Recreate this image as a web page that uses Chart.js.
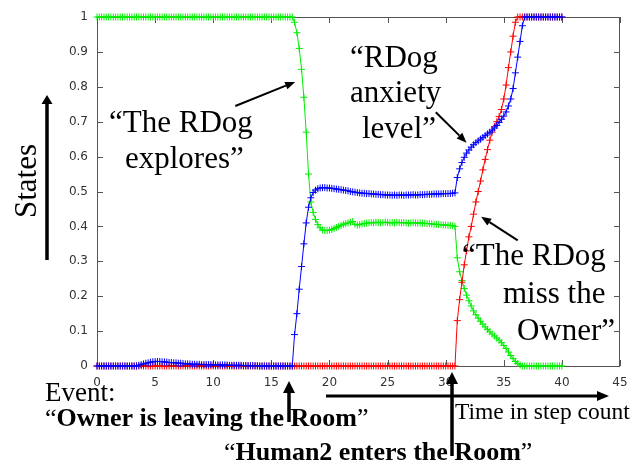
<!DOCTYPE html>
<html>
<head>
<meta charset="utf-8">
<script src="https://cdn.jsdelivr.net/npm/chart.js@4.4.0/dist/chart.umd.min.js"></script>
<style>
  html, body { margin: 0; padding: 0; background: #fff; }
  #wrap { width: 641px; height: 465px; }
</style>
</head>
<body>
<div id="wrap"><canvas id="states" width="641" height="465"></canvas></div>
<script>
// --- DATA (time in step count, one sample every 0.2 step) ---
const steps = [
  0,0.2,0.4,0.6,0.8,1,1.2,1.4,1.6,1.8,
  2,2.2,2.4,2.6,2.8,3,3.2,3.4,3.6,3.8,
  4,4.2,4.4,4.6,4.8,5,5.2,5.4,5.6,5.8,
  6,6.2,6.4,6.6,6.8,7,7.2,7.4,7.6,7.8,
  8,8.2,8.4,8.6,8.8,9,9.2,9.4,9.6,9.8,
  10,10.2,10.4,10.6,10.8,11,11.2,11.4,11.6,11.8,
  12,12.2,12.4,12.6,12.8,13,13.2,13.4,13.6,13.8,
  14,14.2,14.4,14.6,14.8,15,15.2,15.4,15.6,15.8,
  16,16.2,16.4,16.6,16.8,17,17.2,17.4,17.6,17.8,
  18,18.2,18.4,18.6,18.8,19,19.2,19.4,19.6,19.8,
  20,20.2,20.4,20.6,20.8,21,21.2,21.4,21.6,21.8,
  22,22.2,22.4,22.6,22.8,23,23.2,23.4,23.6,23.8,
  24,24.2,24.4,24.6,24.8,25,25.2,25.4,25.6,25.8,
  26,26.2,26.4,26.6,26.8,27,27.2,27.4,27.6,27.8,
  28,28.2,28.4,28.6,28.8,29,29.2,29.4,29.6,29.8,
  30,30.2,30.4,30.6,30.8,31,31.2,31.4,31.6,31.8,
  32,32.2,32.4,32.6,32.8,33,33.2,33.4,33.6,33.8,
  34,34.2,34.4,34.6,34.8,35,35.2,35.4,35.6,35.8,
  36,36.2,36.4,36.6,36.8,37,37.2,37.4,37.6,37.8,
  38,38.2,38.4,38.6,38.8,39,39.2,39.4,39.6,39.8,
  40
];

// blue: "RDog anxiety level"
const anxiety = [
  0,0,0,0,0,0,0,0,0,0,
  0,0,0,0,0,0,0,0,0.002,0.004,
  0.006,0.008,0.009,0.011,0.012,0.013,0.013,0.013,0.012,0.012,
  0.011,0.01,0.01,0.009,0.009,0.008,0.008,0.007,0.006,0.006,
  0.006,0.005,0.005,0.005,0.005,0.004,0.004,0.004,0.004,0.004,
  0.003,0.003,0.003,0.003,0.003,0.003,0.003,0.002,0.002,0.002,
  0.002,0.002,0.002,0.001,0.001,0.001,0.001,0.001,0.001,0.001,
  0,0,0,0,0,0,0,0,0,0,
  0,0,0,0,0,0.09,0.15,0.22,0.285,0.35,
  0.41,0.455,0.482,0.497,0.504,0.508,0.51,0.511,0.511,0.51,
  0.51,0.509,0.508,0.507,0.506,0.505,0.504,0.503,0.502,0.5,
  0.499,0.498,0.497,0.496,0.495,0.495,0.494,0.494,0.493,0.493,
  0.492,0.492,0.491,0.491,0.49,0.49,0.49,0.489,0.49,0.489,
  0.49,0.49,0.489,0.49,0.49,0.49,0.491,0.49,0.49,0.491,
  0.491,0.491,0.492,0.492,0.492,0.493,0.493,0.493,0.493,0.494,
  0.494,0.494,0.494,0.495,0.496,0.54,0.565,0.583,0.598,0.61,
  0.619,0.627,0.634,0.64,0.645,0.65,0.655,0.66,0.665,0.67,
  0.676,0.682,0.689,0.698,0.707,0.716,0.728,0.745,0.765,0.795,
  0.84,0.885,0.93,0.975,1,1,1,1,1,1,
  1,1,1,1,1,1,1,1,1,1,
  1
];

// red: "The RDog miss the Owner"
const missOwner = [
  0,0,0,0,0,0,0,0,0,0,
  0,0,0,0,0,0,0,0,0,0,
  0,0,0,0,0,0,0,0,0,0,
  0,0,0,0,0,0,0,0,0,0,
  0,0,0,0,0,0,0,0,0,0,
  0,0,0,0,0,0,0,0,0,0,
  0,0,0,0,0,0,0,0,0,0,
  0,0,0,0,0,0,0,0,0,0,
  0,0,0,0,0,0,0,0,0,0,
  0,0,0,0,0,0,0,0,0,0,
  0,0,0,0,0,0,0,0,0,0,
  0,0,0,0,0,0,0,0,0,0,
  0,0,0,0,0,0,0,0,0,0,
  0,0,0,0,0,0,0,0,0,0,
  0,0,0,0,0,0,0,0,0,0,
  0,0,0,0,0,0.13,0.19,0.24,0.29,0.33,
  0.37,0.4,0.435,0.47,0.5,0.53,0.562,0.592,0.62,0.647,
  0.67,0.686,0.7,0.715,0.735,0.765,0.805,0.855,0.9,0.945,
  0.985,1,1,1,1,1,1,1,1,1,
  1,1,1,1,1,1,1,1,1,1,
  1
];

// green: "The RDog explores"
const explores = [
  1,1,1,1,1,1,1,1,1,1,
  1,1,1,1,1,1,1,1,1,1,
  1,1,1,1,1,1,1,1,1,1,
  1,1,1,1,1,1,1,1,1,1,
  1,1,1,1,1,1,1,1,1,1,
  1,1,1,1,1,1,1,1,1,1,
  1,1,1,1,1,1,1,1,1,1,
  1,1,1,1,1,1,1,1,1,1,
  1,1,1,1,1,0.985,0.955,0.91,0.85,0.77,
  0.67,0.55,0.47,0.44,0.42,0.405,0.396,0.39,0.388,0.388,
  0.389,0.391,0.394,0.397,0.4,0.403,0.406,0.408,0.41,0.412,
  0.414,0.406,0.404,0.405,0.407,0.408,0.409,0.41,0.411,0.41,
  0.412,0.411,0.41,0.411,0.412,0.411,0.41,0.411,0.41,0.412,
  0.411,0.41,0.411,0.41,0.409,0.41,0.411,0.41,0.409,0.41,
  0.409,0.409,0.408,0.408,0.407,0.406,0.406,0.405,0.405,0.404,
  0.404,0.403,0.403,0.402,0.4,0.31,0.27,0.245,0.222,0.203,
  0.187,0.172,0.158,0.147,0.137,0.128,0.12,0.112,0.105,0.098,
  0.092,0.086,0.08,0.074,0.067,0.059,0.05,0.04,0.03,0.021,
  0.013,0.007,0.003,0,0,0,0,0,0,0,
  0,0,0,0,0,0,0,0,0,0,
  0
];

const xTicks = [0, 5, 10, 15, 20, 25, 30, 35, 40, 45];
const yTicks = [0, 0.1, 0.2, 0.3, 0.4, 0.5, 0.6, 0.7, 0.8, 0.9, 1];

function pts(ys) {
  return steps.map((x, i) => ({ x: x, y: ys[i] }));
}

function series(ys, color) {
  return {
    data: pts(ys),
    showLine: true,
    borderColor: color,
    backgroundColor: color,
    borderWidth: 1,
    pointStyle: 'cross',
    pointRadius: 3.5,
    pointBorderWidth: 1,
    pointBorderColor: color,
    clip: false
  };
}

// --- frame with inward ticks on every side ---
const framePlugin = {
  id: 'frame',
  beforeDatasetsDraw(chart) {
    const { ctx, chartArea: a, scales } = chart;
    ctx.save();
    ctx.strokeStyle = '#555';
    ctx.lineWidth = 1;
    ctx.strokeRect(a.left + 0.5, a.top + 0.5, a.right - a.left - 1, a.bottom - a.top);
    ctx.beginPath();
    xTicks.forEach(v => {
      const px = Math.round(scales.x.getPixelForValue(v)) + 0.5;
      ctx.moveTo(px, a.bottom); ctx.lineTo(px, a.bottom - 6);
      ctx.moveTo(px, a.top); ctx.lineTo(px, a.top + 6);
    });
    yTicks.forEach(v => {
      const py = Math.round(scales.y.getPixelForValue(v)) + 0.5;
      ctx.moveTo(a.left, py); ctx.lineTo(a.left + 6, py);
      ctx.moveTo(a.right, py); ctx.lineTo(a.right - 6, py);
    });
    ctx.stroke();
    ctx.restore();
  }
};

function drawArrow(ctx, x1, y1, x2, y2, lw, hl, hw) {
  const a = Math.atan2(y2 - y1, x2 - x1);
  const bx = x2 - hl * Math.cos(a), by = y2 - hl * Math.sin(a);
  ctx.lineWidth = lw;
  ctx.beginPath(); ctx.moveTo(x1, y1); ctx.lineTo(bx, by); ctx.stroke();
  ctx.beginPath();
  ctx.moveTo(x2, y2);
  ctx.lineTo(bx + hw / 2 * Math.sin(a), by - hw / 2 * Math.cos(a));
  ctx.lineTo(bx - hw / 2 * Math.sin(a), by + hw / 2 * Math.cos(a));
  ctx.closePath();
  ctx.fill();
}

// draws pieces one after another: [text, bold]
function mixedText(ctx, parts, x, y, size) {
  parts.forEach(p => {
    ctx.font = (p[1] ? 'bold ' : '') + size + 'px "Liberation Serif"';
    ctx.fillText(p[0], x, y);
    x += ctx.measureText(p[0]).width;
  });
}

// --- annotations (the texts and arrows drawn on the figure) ---
const notesPlugin = {
  id: 'notes',
  afterDraw(chart) {
    const { ctx, scales } = chart;
    const X = v => scales.x.getPixelForValue(v);
    const Y = v => scales.y.getPixelForValue(v);
    ctx.save();
    ctx.fillStyle = '#000';
    ctx.strokeStyle = '#000';
    ctx.textAlign = 'left';
    ctx.textBaseline = 'alphabetic';

    // y axis title + arrow
    ctx.save();
    ctx.translate(36, 181);
    ctx.rotate(-Math.PI / 2);
    ctx.textAlign = 'center';
    ctx.font = '31px "Liberation Serif"';
    ctx.fillText('States', 0, 0);
    ctx.restore();
    drawArrow(ctx, 47, 260, 47, 95, 3.5, 9, 11);

    // in-plot labels
    ctx.font = '31px "Liberation Serif"';
    ctx.fillText('\u201CThe RDog', 109, 132);
    ctx.fillText('explores\u201D', 125, 168);
    drawArrow(ctx, X(11.9), Y(0.745), X(17.05), Y(0.814), 2, 10, 8);

    ctx.fillText('\u201CRDog', 350, 67);
    ctx.fillText('anxiety', 350, 102);
    ctx.fillText('level\u201D', 362, 138);
    drawArrow(ctx, X(29.15), Y(0.727), X(31.8), Y(0.64), 2, 10, 8);

    ctx.fillText('\u201CThe RDog', 462, 265);
    ctx.fillText('miss the', 503, 303);
    ctx.fillText('Owner\u201D', 517, 340);
    drawArrow(ctx, X(36.2), Y(0.36), X(33.05), Y(0.428), 2, 10, 8);

    // events under the axis
    ctx.font = '27px "Liberation Serif"';
    ctx.fillText('Event:', 45, 401);
    mixedText(ctx, [['\u201C', false], ['Owner is leaving the Room', true], ['\u201D', false]], 45, 426, 26);
    mixedText(ctx, [['\u201C', false], ['Human2 enters the Room', true], ['\u201D', false]], 224, 460, 26);
    drawArrow(ctx, 289, 422, 289, 381, 3.5, 12, 12);
    drawArrow(ctx, 452, 456, 452, 372, 3.5, 12, 12);

    // time arrow
    drawArrow(ctx, 326, 396, 609, 396, 3, 12, 10);
    ctx.font = '23.5px "Liberation Serif"';
    ctx.fillText('Time in step count', 455, 419);
    ctx.restore();
  }
};

const tickFont = { family: '"DejaVu Sans"', size: 12 };

new Chart(document.getElementById('states'), {
  type: 'scatter',
  data: {
    datasets: [
      series(anxiety, '#0000ff'),
      series(missOwner, '#ff0000'),
      series(explores, '#00ee00')
    ]
  },
  options: {
    responsive: false,
    animation: false,
    layout: { padding: { left: 0, top: 17, right: 21, bottom: 0 } },
    plugins: { legend: { display: false }, tooltip: { enabled: false } },
    scales: {
      x: {
        type: 'linear',
        min: 0, max: 45,
        afterFit: s => { s.height = 99; },
        afterBuildTicks: s => { s.ticks = xTicks.map(v => ({ value: v })); },
        ticks: { font: tickFont, color: '#333', padding: 10, maxRotation: 0, autoSkip: false },
        grid: { display: false, drawTicks: false },
        border: { display: false }
      },
      y: {
        min: 0, max: 1,
        afterFit: s => { s.width = 97; },
        afterBuildTicks: s => { s.ticks = yTicks.map(v => ({ value: v })); },
        ticks: { font: tickFont, color: '#333', padding: 9, callback: v => String(v) },
        grid: { display: false, drawTicks: false },
        border: { display: false }
      }
    }
  },
  plugins: [framePlugin, notesPlugin]
});
</script>
</body>
</html>
